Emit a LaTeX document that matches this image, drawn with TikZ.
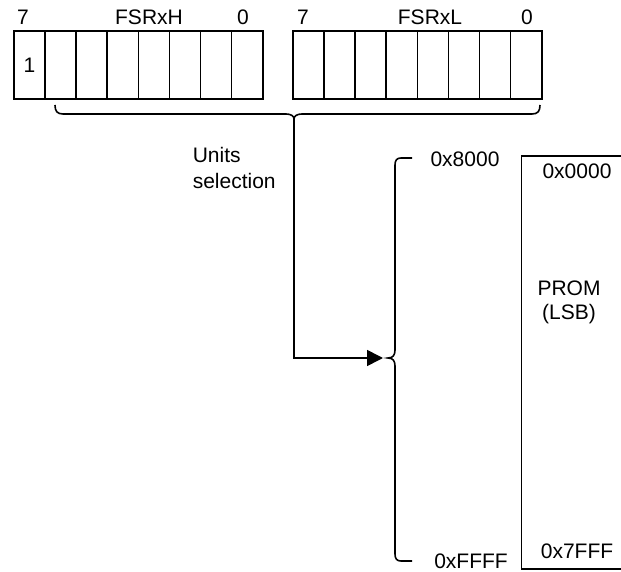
\documentclass[tikz,border=0pt]{standalone}
\usepackage{fontspec}
\setmainfont{Liberation Sans}
\usetikzlibrary{arrows.meta}
\begin{document}
\begin{tikzpicture}[x=1pt,y=-1pt,line width=1.6pt,
  lbl/.style={font=\fontsize{21}{24}\selectfont, inner sep=0pt},
  cell/.style={draw, minimum width=31.125pt, minimum height=68pt, inner sep=0pt, anchor=north west, font=\fontsize{21}{24}\selectfont},
  arr/.style={-{Triangle[length=16pt,width=16pt]}}]
\useasboundingbox (0,0) rectangle (621,572);
\clip (0,0) rectangle (621,572);
% FSRxH register
\node[cell] (h0) at (13,30) {1};
\foreach \i in {1,...,7} \node[cell] (h\i) at ({13+31.125*\i},30) {};
% FSRxL register
\foreach \i in {0,...,7} \node[cell] (l\i) at ({292+31.125*\i},30) {};
% register labels
\node[lbl] (h7lbl) at (23,17) {7};
\node[lbl] (hname) at (149,17) {FSRxH};
\node[lbl] (h0lbl) at (243,17) {0};
\node[lbl] (l7lbl) at (303,17) {7};
\node[lbl] (lname) at (430,17) {FSRxL};
\node[lbl] (l0lbl) at (527,17) {0};
% top brace
\coordinate (btip) at (294,119);
\draw (55,105) .. controls (55,111) and (57,114) .. (63,114) -- (286,114)
  .. controls (291,114) and (294,116) .. (btip)
  .. controls (294,116) and (297,114) .. (302,114) -- (532,114)
  .. controls (538,114) and (540,111) .. (540,105);
\node[lbl, anchor=west, align=left, font=\fontsize{21}{26}\selectfont] (units) at (192,168) {Units\\selection};
% right brace
\coordinate (rtip) at (388,358);
\draw (412,158) -- (401,158) .. controls (397,158) and (395,160) .. (395,165) -- (395,350)
  .. controls (395,355) and (393,358) .. (rtip)
  .. controls (393,358) and (395,361) .. (395,366) -- (395,554)
  .. controls (395,559) and (397,561) .. (401,561) -- (412,561);
\draw[arr] (btip) |- ([xshift=-5pt]rtip);
\node[lbl] (a8000) at (465,159) {0x8000};
\node[lbl] (affff) at (471,561) {0xFFFF};
% PROM
\node[draw, minimum width=120pt, minimum height=413pt, anchor=north west, inner sep=0pt] (prom) at (520.5,155) {};
\node[lbl] (p0000) at (577,171.5) {0x0000};
\node[lbl] (p7fff) at (577,551) {0x7FFF};
\node[lbl, align=center] (promlbl) at (569,302) {PROM\\(LSB)};
\end{tikzpicture}
\end{document}
